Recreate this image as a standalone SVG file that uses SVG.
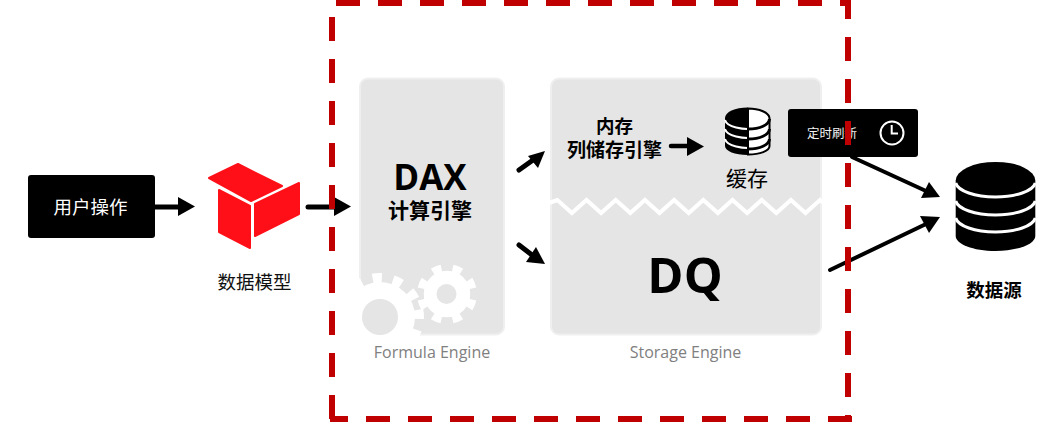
<svg xmlns="http://www.w3.org/2000/svg" width="1051" height="422" viewBox="0 0 1051 422">
<style>
text{font-family:"Noto Sans CJK SC","Noto Sans",sans-serif;text-anchor:middle}
.latin{font-family:"Open Sans","Noto Sans",sans-serif;font-weight:700;fill:#000}
.b{font-weight:700;fill:#000}
.cap{font-family:"Open Sans","Noto Sans",sans-serif;font-size:16px;fill:#808080}
.panel{fill:#e5e5e5;stroke:#efefef;stroke-width:2}
.line{stroke:#000;fill:none;stroke-linecap:round}
.red{stroke:#c00000;stroke-width:6;stroke-dasharray:24 18;fill:none}
.wa{fill:none;stroke:#fff;stroke-width:3}
</style>
<rect width="1051" height="422" fill="#fff"/>
<g id="user-action">
<rect x="28" y="175" width="127" height="63" rx="3" fill="#000"/>
<text x="90.500" y="214" font-size="18.500" fill="#fff">用户操作</text>
</g>
<g id="data-model">
<g fill="#ff0f17" stroke="#ff0f17" stroke-width="2" stroke-linejoin="round">
<polygon points="209,178 238,164 282,186 251,201"/>
<polygon points="219,190 250,206 250,248 219,232"/>
<polygon points="255,204 299,183 299,214 255,236"/>
</g>
<text x="254.500" y="289" font-size="18.500" fill="#111">数据模型</text>
</g>
<g id="formula-engine">
<rect class="panel" x="360" y="78.500" width="144" height="256" rx="8"/>
<g fill="#fff" stroke="none">
<circle cx="380" cy="317" r="35"/>
<circle cx="380" cy="317" r="39" fill="none" stroke="#fff" stroke-width="10" pathLength="120" stroke-dasharray="4.500 5.500" transform="rotate(-40.750 380 317)"/>
<circle cx="447" cy="294" r="24" stroke="#e5e5e5" stroke-width="1.500"/>
<circle cx="447" cy="294" r="26" fill="none" stroke="#fff" stroke-width="8" pathLength="80" stroke-dasharray="4.500 5.500" transform="rotate(12.400 447 294)"/>
</g>
<circle cx="380" cy="317" r="18" fill="#e5e5e5"/>
<circle cx="446.500" cy="294" r="10" fill="#e5e5e5"/>
<text class="latin" x="430" y="190" font-size="35">DAX</text>
<text class="b" x="430" y="218" font-size="21">计算引擎</text>
<text class="cap" x="432" y="358">Formula Engine</text>
</g>
<g id="storage-engine">
<rect class="panel" x="551" y="78.500" width="270" height="256" rx="8"/>
<polyline points="546,204 557.300,200 571.900,213 586.500,200 601.100,213 615.700,200 630.300,213 644.900,200 659.500,213 674.100,200 688.700,213 703.300,200 717.900,213 732.500,200 747.100,213 761.700,200 776.300,213 790.900,200 805.500,213 820.100,200 826,205" fill="none" stroke="#fff" stroke-width="4"/>
<text class="b" x="614.500" y="133" font-size="18.500">内存</text>
<text class="b" x="614.500" y="157" font-size="19">列储存引擎</text>
<text class="latin" x="685" y="293" font-size="49">DQ</text>
<text class="cap" x="685.500" y="358">Storage Engine</text>
</g>
<g id="cache">
<path d="M725 118A22.500 10.500 0 0 1 747.500 107.500V155C735 155 725 151 725 146Z" fill="#000"/>
<path d="M725 129C727 137 745 138 747.500 138M725 139C727 147 745 148 747.500 148" fill="none" stroke="#fff" stroke-width="2"/>
<path d="M725 120C727 128 745 129 747.500 129" fill="none" stroke="#fff" stroke-width="2"/>
<path d="M748 108.500A21.500 10 0 0 1 769.500 118V146C769.500 151 760 154.500 748 154.500Z" fill="#fff" stroke="#000" stroke-width="2"/>
<path d="M748 129C760 129 769 125 769.500 119M748 139C760 139 769 135 769.500 129M748 149C760 149 769 145 769.500 139" fill="none" stroke="#000" stroke-width="3"/>
<text x="747" y="186" font-size="21" fill="#000">缓存</text>
</g>
<g id="scheduled-refresh">
<rect x="788" y="109" width="130" height="48" rx="3" fill="#000"/>
<text x="832" y="137.500" font-size="12.500" fill="#f2f2f2">定时刷新</text>
<circle cx="892" cy="133" r="11.500" fill="none" stroke="#fff" stroke-width="2"/>
<path d="M891.700 125V133.500H898" fill="none" stroke="#fff" stroke-width="2"/>
</g>
<g id="data-source">
<path d="M955.700 180.500A39.700 18.500 0 0 1 1035.300 180.500V236C1035.300 244 1018 251 995.500 251S955.700 244 955.700 236Z" fill="#000"/>
<path class="wa" d="M955.700 183C958 191 975 197 995.500 197S1033 191 1035.300 183"/>
<path class="wa" d="M955.700 201C958 209 975 215 995.500 215S1033 209 1035.300 201"/>
<path class="wa" d="M955.700 218C958 226 975 232 995.500 232S1033 226 1035.300 218"/>
<text class="b" x="994" y="297" font-size="18.500">数据源</text>
</g>
<g id="connectors">
<path class="line" stroke-width="5" stroke-linecap="butt" d="M155 207H180"/>
<polygon points="178,197 195,206.500 178,216"/>
<path class="line" stroke-width="5" d="M308 207H336"/>
<polygon points="334,197 351,206.500 334,216"/>
<path class="line" stroke-width="5" d="M519 170L533 160"/>
<polygon points="545,151 528,156 538,168"/>
<path class="line" stroke-width="5" d="M519 245L532 255"/>
<polygon points="545,264 526,262 536,247"/>
<path class="line" stroke-width="4.500" stroke-linecap="butt" d="M671 146H690"/>
<polygon points="687,137 704,146.500 687,156"/>
<path class="line" stroke-width="4" stroke-linecap="butt" d="M852 157L926 191"/>
<polygon points="940,197 921,198 929,182"/>
<path class="line" stroke-width="4" d="M830 270L926 224"/>
<polygon points="940,217 920,216 929,233"/>
</g>
<g id="engine-boundary">
<line class="red" x1="336" y1="3" x2="851" y2="3"/>
<line class="red" x1="848" y1="-5" x2="848" y2="422"/>
<line class="red" x1="330" y1="419" x2="852" y2="419" stroke-dashoffset="6"/>
<line class="red" x1="332" y1="17" x2="332" y2="422"/>
</g>
</svg>
